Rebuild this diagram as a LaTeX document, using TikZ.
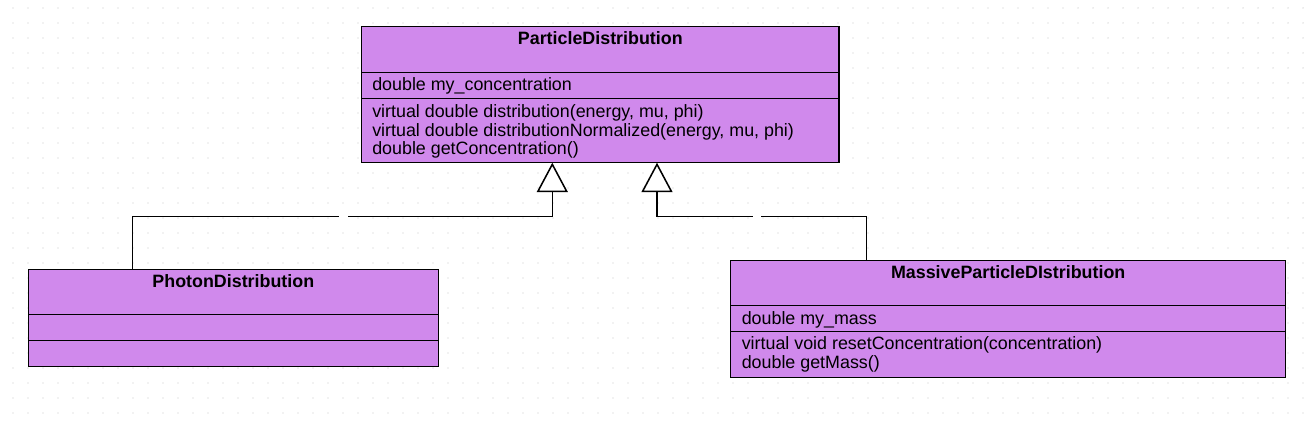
\documentclass[tikz,border=0pt]{standalone}
\usepackage{fontspec}
\setmainfont{Liberation Sans}
\usetikzlibrary{arrows.meta}
\definecolor{umlfill}{RGB}{208,137,236}
\definecolor{griddot}{RGB}{200,200,200}
\begin{document}
\begin{tikzpicture}[x=0.75pt,y=-0.75pt,
  comp/.style={draw=black, fill=umlfill, line width=1.15pt, anchor=north west, inner sep=0pt, outer sep=0pt},
  classtitle/.style={font=\fontsize{13.4}{16}\selectfont\bfseries, anchor=base, inner sep=0pt},
  member/.style={font=\fontsize{13.4}{16}\selectfont, anchor=base west, inner sep=0pt},
  inherit/.style={line width=1.15pt, -{Triangle[fill=white, length=22.1pt, width=23.25pt, line width=1.15pt]}},
  gapmark/.style={fill=white, draw=none, inner sep=0pt, minimum width=6.5pt, minimum height=3pt}
]
\useasboundingbox (0,0) rectangle (1311,423);
\fill[white] (0,0) rectangle (1311,423);
% dotted grid
\foreach \i in {0,...,86}{
  \foreach \j in {0,...,27}{
    \fill[griddot] ({13+15*\i},{8+15*\j}) circle (0.55pt);
  }
}

% ParticleDistribution
\node[comp, minimum width=358pt, minimum height=34.2pt] (pd) at (361.7,26.7) {};
\node[comp, minimum width=358pt, minimum height=19.5pt] (pdA) at (pd.south west) {};
\node[comp, minimum width=358pt, minimum height=48.3pt] (pdM) at (pdA.south west) {};
\node[classtitle] (pdT) at (600.3,45) {ParticleDistribution};
\node[member] (pda1) at (372,90.8) {double my\_concentration};
\node[member] (pdm1) at (372,117.5) {virtual double distribution(energy, mu, phi)};
\node[member] (pdm2) at (372,136.2) {virtual double distributionNormalized(energy, mu, phi)};
\node[member] (pdm3) at (372,154.9) {double getConcentration()};

% PhotonDistribution
\node[comp, minimum width=307.5pt, minimum height=34pt] (ph) at (28.3,269.3) {};
\node[comp, minimum width=307.5pt, minimum height=19.5pt] (phA) at (ph.south west) {};
\node[comp, minimum width=307.5pt, minimum height=19.5pt] (phM) at (phA.south west) {};
\node[classtitle] (phT) at (233.3,287.6) {PhotonDistribution};

% MassiveParticleDIstribution
\node[comp, minimum width=416.25pt, minimum height=33.75pt] (ms) at (730.7,260.7) {};
\node[comp, minimum width=416.25pt, minimum height=19.2pt] (msA) at (ms.south west) {};
\node[comp, minimum width=416.25pt, minimum height=34.5pt] (msM) at (msA.south west) {};
\node[classtitle] (msT) at (1008.2,278.2) {MassiveParticleDIstribution};
\node[member] (msa1) at (741.5,324.8) {double my\_mass};
\node[member] (msm1) at (741.5,349.5) {virtual void resetConcentration(concentration)};
\node[member] (msm2) at (741.5,368.1) {double getMass()};

% connector end points
\coordinate (phTop) at (132.3,269.3);
\coordinate (j1) at (552.3,216.7);
\coordinate (pdL) at (552.3,162.7);
\coordinate (msTop) at (866.7,260.7);
\coordinate (j2) at (657,216.7);
\coordinate (pdR) at (657,162.7);

\draw[inherit] (phTop) |- (j1) -- (pdL);
\draw[inherit] (msTop) |- (j2) -- (pdR);
\node[gapmark] (g1) at (343.4,216.7) {};
\node[gapmark] (g2) at (757,216.7) {};
\end{tikzpicture}
\end{document}
